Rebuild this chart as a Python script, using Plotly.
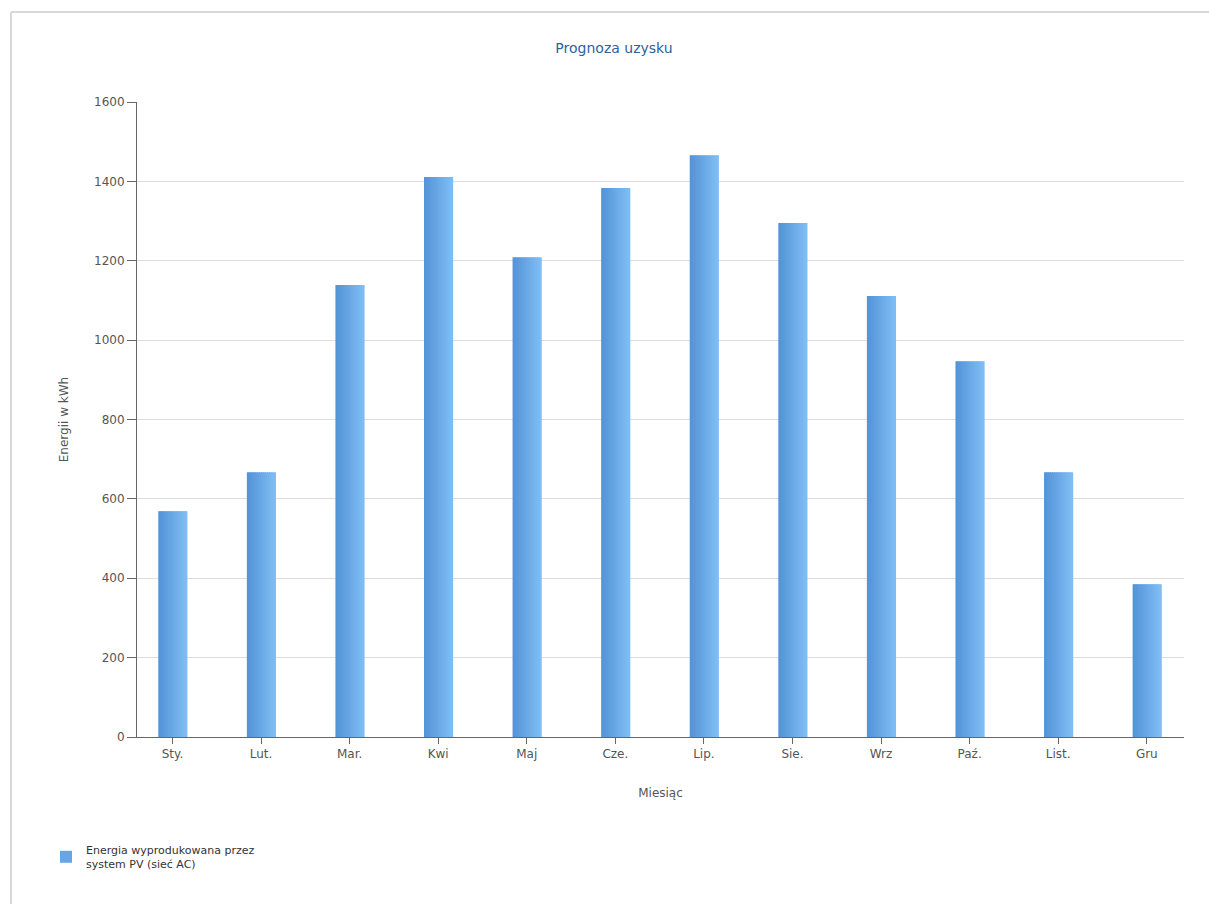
import plotly.graph_objects as go

months = ["Sty.", "Lut.", "Mar.", "Kwi", "Maj", "Cze.", "Lip.", "Sie.", "Wrz", "Paź.", "List.", "Gru"]
energy_kwh = [569, 667, 1139, 1411, 1209, 1383, 1466, 1295, 1111, 947, 667, 385]
y_ticks = [0, 200, 400, 600, 800, 1000, 1200, 1400, 1600]

series_name = "Energia wyprodukowana przez<br>system PV (sieć AC)"

FONT = "DejaVu Sans"
dark = (84, 148, 216)
light = (126, 188, 243)
N = 14
W = 0.32
sw = W / N

fig = go.Figure()
x_idx = list(range(len(months)))
for i in range(N):
    t = i / (N - 1)
    c = tuple(round(dark[k] + (light[k] - dark[k]) * t) for k in range(3))
    fig.add_trace(go.Bar(
        x=x_idx, y=energy_kwh,
        width=sw * 1.4, offset=-W / 2 + i * sw,
        marker=dict(color="rgb(%d,%d,%d)" % c, line=dict(width=0)),
        name=series_name,
        showlegend=(i == N // 2 - 1),
        hoverinfo="skip" if i != N // 2 - 1 else None,
    ))

fig.update_layout(
    width=1209, height=904,
    barmode="overlay",
    paper_bgcolor="white", plot_bgcolor="white",
    margin=dict(l=137, r=25, t=102, b=167),
    font=dict(family=FONT, size=12, color="#555555"),
    title=dict(text="Prognoza uzysku", x=614 / 1209, xanchor="center", xref="container",
               y=1 - 48 / 904, yanchor="middle",
               font=dict(family=FONT, size=14, color="#2f5f9f")),
    showlegend=True,
    legend=dict(x=(46 - 137) / 1047, y=(737 - 836) / 635, xanchor="left", yanchor="top",
                font=dict(family=FONT, size=11, color="#333333"), bgcolor="rgba(0,0,0,0)",
                itemwidth=30),
    xaxis=dict(
        tickmode="array", tickvals=x_idx, ticktext=months,
        range=[-0.4, 11.42],
        showline=True, linecolor="#666666", linewidth=1,
        ticks="outside", ticklen=6, tickcolor="#666666",
        showgrid=False, zeroline=False,
        title=dict(text="Miesiąc", font=dict(family=FONT, size=12, color="#555555"), standoff=28),
        tickfont=dict(size=12, color="#555555"),
    ),
    yaxis=dict(
        range=[0, 1600], tickvals=y_ticks,
        showline=True, linecolor="#666666", linewidth=1,
        ticks="outside", ticklen=9, tickcolor="#666666",
        showgrid=True, gridcolor="#dddddd", gridwidth=1, zeroline=False,
        title=dict(text="Energii w kWh", font=dict(family=FONT, size=12, color="#555555"), standoff=22),
        tickfont=dict(size=12, color="#555555"),
    ),
    shapes=[
        dict(type="line", xref="paper", yref="paper",
             x0=(11 - 137) / 1047, x1=(1209 - 137) / 1047 + 0.01,
             y0=(737 - 12) / 635, y1=(737 - 12) / 635,
             line=dict(color="#d8d8d8", width=2)),
        dict(type="line", xref="paper", yref="paper",
             x0=(11 - 137) / 1047, x1=(11 - 137) / 1047,
             y0=(737 - 12) / 635, y1=(737 - 910) / 635,
             line=dict(color="#d8d8d8", width=2)),
    ],
)

fig.write_html("out.html")
